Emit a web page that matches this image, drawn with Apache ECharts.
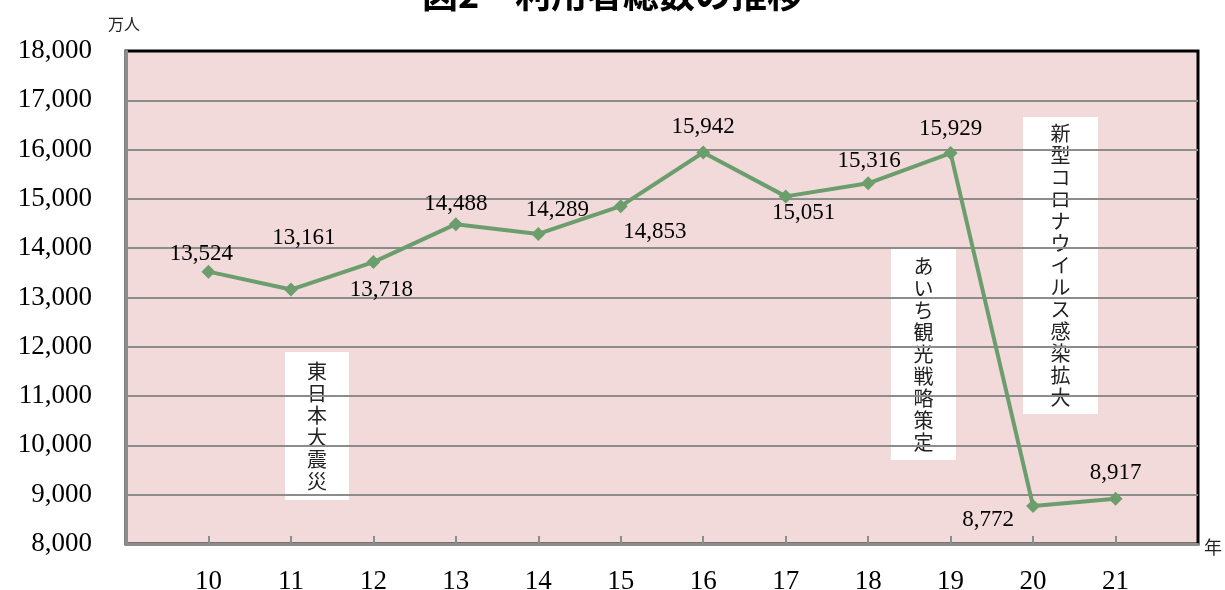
<!DOCTYPE html>
<html>
<head>
<meta charset="utf-8">
<script src="https://cdn.jsdelivr.net/npm/echarts@6/dist/echarts.min.js"></script>
<style>
  html, body { margin: 0; padding: 0; background: #fff; }
  #main { width: 1225px; height: 590px; }
</style>
</head>
<body>
<div id="main"></div>
<script>
// 年（平成/令和の下二桁）
var years = [10, 11, 12, 13, 14, 15, 16, 17, 18, 19, 20, 21];
// 利用者総数（万人）
var visitors = [13524, 13161, 13718, 14488, 14289, 14853, 15942, 15051, 15316, 15929, 8772, 8917];
var yTicks = [8000, 9000, 10000, 11000, 12000, 13000, 14000, 15000, 16000, 17000, 18000];
var notes = ['東日本大震災', 'あいち観光戦略策定', '新型コロナウイルス感染拡大'];

// label offsets from each point (layout only)
var labelOffsets = [[-7, -18], [13, -52], [8, 28], [0, -20], [19, -24], [34, 26],
                    [0, -26], [18, 17], [1, -22], [0, -24], [-45, 14], [0, -26]];

var serif = '"Liberation Serif", "DejaVu Serif", serif';
var jp = '"Noto Sans CJK JP", sans-serif';
var green = '#6b9e6c';
var gridGray = '#8c8c8c';

var ec = echarts.init(document.getElementById('main'));

function noteBox(text, x, y, w, h) {
    return {
        type: 'group',
        x: x, y: y,
        children: [
            { type: 'rect', shape: { x: 0, y: 0, width: w, height: h }, style: { fill: '#fff' } },
            {
                type: 'text', x: w / 2, y: h / 2,
                style: {
                    text: text.split('').join('\n'),
                    font: '20px ' + jp, fill: '#222', lineHeight: 22,
                    align: 'center', verticalAlign: 'middle'
                }
            }
        ]
    };
}

ec.setOption({
    animation: false,
    title: {
        text: '図2　利用者総数の推移',
        left: 'center', top: -29,
        textStyle: { fontFamily: jp, fontSize: 36, fontWeight: 'bold', color: '#000' }
    },
    grid: {
        left: 126, right: 27, top: 51, bottom: 46,
        outerBoundsMode: 'none',
        show: true, backgroundColor: '#f2dadb', borderColor: '#000', borderWidth: 3
    },
    xAxis: {
        type: 'value',
        min: years[0] - 1, max: years[years.length - 1] + 1, interval: 1,
        axisLine: { show: true, onZero: false, lineStyle: { color: gridGray, width: 3 } },
        axisTick: { show: true, inside: true, length: 8, customValues: years, lineStyle: { color: gridGray, width: 2 } },
        axisLabel: { customValues: years, margin: 24, fontFamily: serif, fontSize: 27, color: '#000' },
        splitLine: { show: false }
    },
    yAxis: {
        type: 'value',
        min: yTicks[0], max: yTicks[yTicks.length - 1], interval: 1000,
        axisLine: { show: true, lineStyle: { color: gridGray, width: 3 } },
        axisTick: { show: false },
        axisLabel: {
            margin: 34, fontFamily: serif, fontSize: 27, color: '#000',
            formatter: function (v) { return v.toLocaleString('en-US'); }
        },
        splitLine: { showMaxLine: false, lineStyle: { color: gridGray, width: 2 } }
    },
    series: [{
        type: 'line',
        data: years.map(function (y, i) {
            return {
                value: [y, visitors[i]],
                label: { offset: labelOffsets[i] }
            };
        }),
        symbol: 'diamond',
        symbolSize: 14,
        itemStyle: { color: green },
        lineStyle: { color: green, width: 4 },
        label: {
            show: true, position: 'inside',
            fontFamily: serif, fontSize: 23, color: '#000',
            formatter: function (p) { return p.value[1].toLocaleString('en-US'); }
        },
        z: 5
    }],
    graphic: [
        { type: 'text', x: 108, y: 16, style: { text: '万人', font: '16px ' + jp, fill: '#222' } },
        { type: 'text', x: 1204, y: 538, style: { text: '年', font: '18px ' + jp, fill: '#222' } },
        noteBox(notes[0], 285, 352, 64, 148),
        noteBox(notes[1], 891, 248, 65, 212),
        noteBox(notes[2], 1023, 117, 75, 297)
    ]
});
</script>
</body>
</html>
